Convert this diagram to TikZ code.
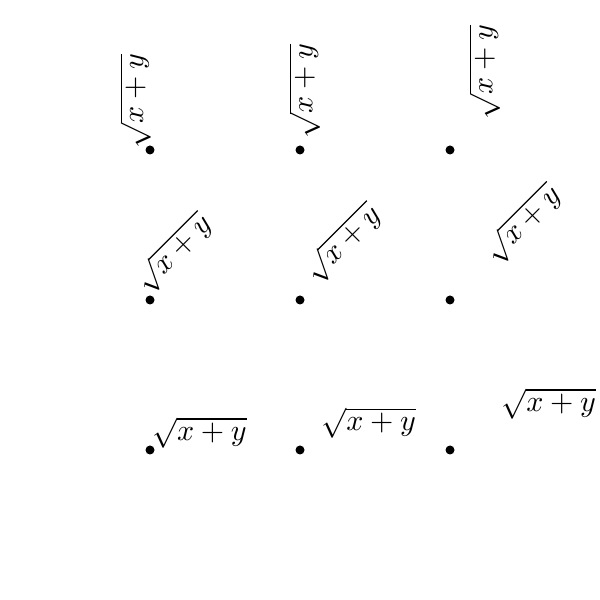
\documentclass[tikz,border=0pt]{standalone}
\begin{document}
\begin{tikzpicture}[x=50pt,y=50pt,
  pt/.style={circle,fill=black,inner sep=0pt,minimum size=3pt},
  lab/.style={inner sep=0pt,anchor=south west}]
\useasboundingbox (0,0) rectangle (4,4);
% dots
\foreach \c in {1,2,3}{
  \foreach \r in {1,2,3}{
    \node[pt] (d\c\r) at (\c,\r) {};
  }
}
% row 1: rotate 0 ; row 2: rotate 45 ; row 3: rotate 90
\foreach \r/\ang in {1/0,2/45,3/90}{
  \node[lab,rotate=\ang] (l1\r) at ([shift={(0.5pt,0.3pt)}]d1\r.center) {$\sqrt{x+y}$};
  \node[lab,rotate=\ang] (l2\r) at ([shift={(6.9pt,3.6pt)}]d2\r.center) {$\sqrt{x+y}$};
  \node[lab,rotate=\ang] (l3\r) at ([shift={(16.9pt,10pt)}]d3\r.center) {$\sqrt{x+y}$};
}
\end{tikzpicture}
\end{document}
